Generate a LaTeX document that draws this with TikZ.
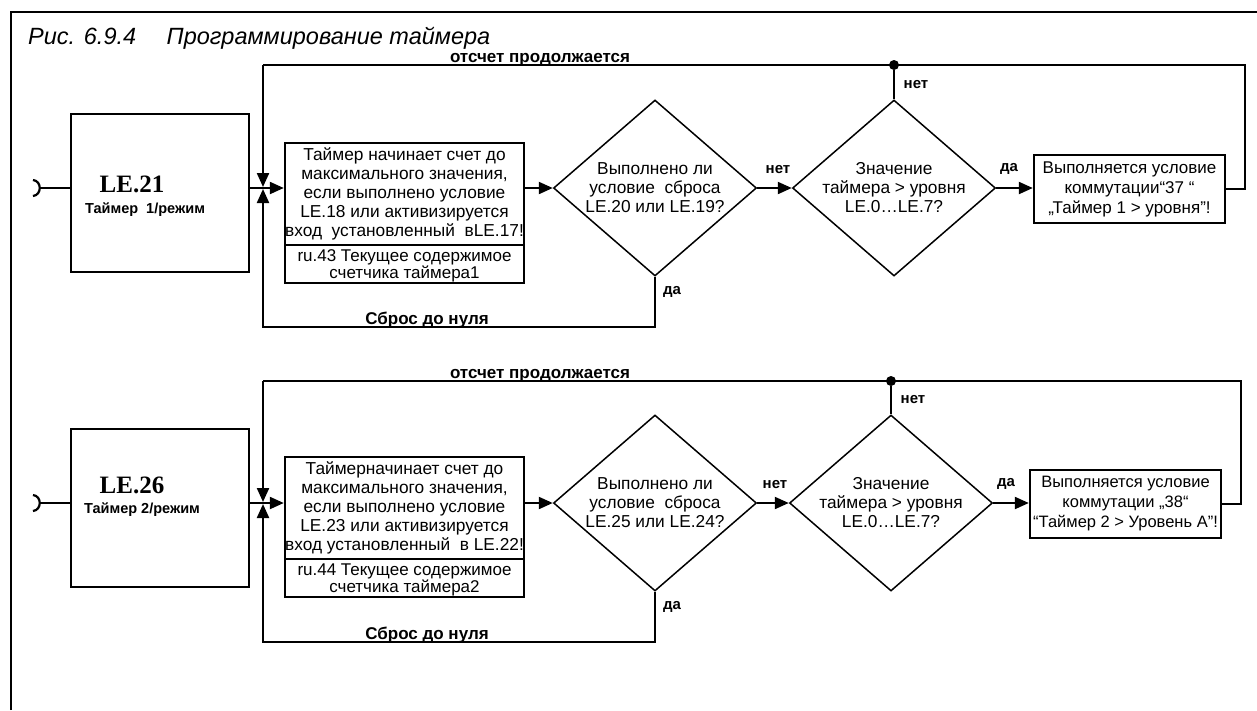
\documentclass[tikz,border=0pt]{standalone}
\usepackage{fontspec}
\setmainfont{Liberation Sans}
\newfontfamily\serifb{Liberation Serif}
\usetikzlibrary{shapes.geometric,arrows.meta,calc}
\begin{document}
\begin{tikzpicture}[x=1pt,y=-1pt,
  frame/.style={line width=2pt},
  conn/.style={line width=2.2pt},
  arr/.style={conn,-{Triangle[length=14pt,width=12pt]}},
  bigbox/.style={draw,line width=2.8pt,inner sep=0pt,minimum width=178pt,minimum height=158pt},
  txtbox/.style={draw,line width=2.4pt,inner sep=0pt,minimum width=239pt},
  txt/.style={inner sep=0pt,align=center,font=\fontsize{17.3}{19}\selectfont},
  resbox/.style={draw,line width=2.4pt,inner sep=0pt,minimum width=191pt,minimum height=68pt},
  dia/.style={diamond,draw,line width=1.5pt,inner sep=0pt,minimum width=203pt,minimum height=176pt},
  lbl/.style={font=\bfseries\fontsize{15}{17}\selectfont,inner sep=0pt},
  head/.style={font=\bfseries\fontsize{17}{19}\selectfont,inner sep=0pt,anchor=base},
  code/.style={font=\serifb\bfseries\fontsize{25}{28}\selectfont,inner sep=0pt},
  sub/.style={font=\bfseries\fontsize{14.5}{16}\selectfont,inner sep=0pt},
  dot/.style={circle,fill,inner sep=0pt,minimum size=10pt}
]
\useasboundingbox (0,0) rectangle (1257,710);
% frame
\draw[frame] (11,710) -- (11,12) -- (1257,12);
\node[anchor=base west,inner sep=0pt,font=\itshape\fontsize{23.5}{26}\selectfont] (title) at (28,44) {Рис. 6.9.4\hspace{1.3em}Программирование таймера};

% ===== row 1 =====
\coordinate (hk1) at (40,188);
\coordinate (j1) at (263,188);
\coordinate (j1a) at (263,187);
\coordinate (j1b) at (263,189);
\coordinate (lt1) at (263,65);
\coordinate (rt1) at (1245,65);
\coordinate (bc1) at (263,327);
\node[bigbox] (lb1) at (160,193) {};
\node[code] (le21) at (132,184) {LE.21};
\node[sub] (tm1) at (145,210) {Таймер\ \ 1/режим};
\node[txtbox,minimum height=102pt] (tb1) at (404.5,194) {};
\node[txt] (tb1t) at (404.5,194) {Таймер начинает счет до\\максимального значения,\\если выполнено условие\\LE.18 или активизируется\\вход\ \ установленный\ \ вLE.17!};
\node[txtbox,minimum height=38pt] (tb1b) at (404.5,264) {};
\node[txt,font=\fontsize{17}{17}\selectfont] (tb1bt) at (404.5,266) {ru.43 Текущее содержимое\\счетчика таймера1};
\node[dia] (d1) at (655,188) {};
\node[txt] (d1t) at (655,188) {Выполнено ли\\условие\ \ сброса\\LE.20 или LE.19?};
\node[dia] (d2) at (894,188) {};
\node[txt] (d2t) at (894,188) {Значение\\таймера > уровня\\LE.0…LE.7?};
\node[resbox] (rb1) at (1129.5,189) {};
\node[txt,font=\fontsize{17}{20}\selectfont] (rb1t) at (1129.5,189) {Выполняется условие\\коммутации“37 “\\„Таймер 1 > уровня”!};
\node[dot] (dot1) at (894,65) {};
\node[head] (oc1) at (540,62) {отсчет продолжается};
\node[head] (sb1) at (427,324) {Сброс до нуля};
\node[lbl] (n1a) at (916,85) {нет};
\node[lbl] (n1b) at (778,170) {нет};
\node[lbl] (y1a) at (1009,169) {да};
\node[lbl] (y1b) at (672,292) {да};

\draw[conn] (33,180) .. controls (42,181) and (42,195) .. (33,196);
\draw[conn] (hk1) -- (lb1.west |- hk1);
\draw[conn] (lb1.east |- j1) -- (j1);
\draw[arr] (j1) -- (tb1.west |- j1);
\draw[arr] (tb1.east |- d1.west) -- (d1.west);
\draw[arr] (d1.east) -- (d2.west);
\draw[arr] (d2.east) -- (rb1.west |- d2.east);
\draw[conn] (rb1.east) -| (rt1) -- (lt1);
\draw[arr] (lt1) -- (j1a);
\draw[conn] (dot1) -- (d2.north);
\draw[arr] (d1.south) |- (bc1) -- (j1b);

% ===== row 2 =====
\coordinate (hk2) at (40,503);
\coordinate (j2) at (263,503);
\coordinate (j2a) at (263,502);
\coordinate (j2b) at (263,504);
\coordinate (lt2) at (263,381);
\coordinate (rt2) at (1241,381);
\coordinate (bc2) at (263,642);
\node[bigbox] (lb2) at (160,508) {};
\node[code] (le26) at (132,485) {LE.26};
\node[sub] (tm2) at (142,510) {Таймер 2/режим};
\node[txtbox,minimum height=102pt] (tb2) at (404.5,508) {};
\node[txt] (tb2t) at (404.5,508) {Таймерначинает счет до\\максимального значения,\\если выполнено условие\\LE.23 или активизируется\\вход установленный\ \ в LE.22!};
\node[txtbox,minimum height=38pt] (tb2b) at (404.5,578) {};
\node[txt,font=\fontsize{17}{17}\selectfont] (tb2bt) at (404.5,580) {ru.44 Текущее содержимое\\счетчика таймера2};
\node[dia] (d3) at (655,503) {};
\node[txt] (d3t) at (655,503) {Выполнено ли\\условие\ \ сброса\\LE.25 или LE.24?};
\node[dia] (d4) at (891,503) {};
\node[txt] (d4t) at (891,503) {Значение\\таймера > уровня\\LE.0…LE.7?};
\node[resbox] (rb2) at (1125.5,504) {};
\node[txt,font=\fontsize{16.5}{20}\selectfont] (rb2t) at (1125.5,504) {Выполняется условие\\коммутации „38“\\“Таймер 2 > Уровень А”!};
\node[dot] (dot2) at (891,381) {};
\node[head] (oc2) at (540,378) {отсчет продолжается};
\node[head] (sb2) at (427,639) {Сброс до нуля};
\node[lbl] (n2a) at (913,400) {нет};
\node[lbl] (n2b) at (775,485) {нет};
\node[lbl] (y2a) at (1006,484) {да};
\node[lbl] (y2b) at (672,607) {да};

\draw[conn] (33,495) .. controls (42,496) and (42,510) .. (33,511);
\draw[conn] (hk2) -- (lb2.west |- hk2);
\draw[conn] (lb2.east |- j2) -- (j2);
\draw[arr] (j2) -- (tb2.west |- j2);
\draw[arr] (tb2.east |- d3.west) -- (d3.west);
\draw[arr] (d3.east) -- (d4.west);
\draw[arr] (d4.east) -- (rb2.west |- d4.east);
\draw[conn] (rb2.east) -| (rt2) -- (lt2);
\draw[arr] (lt2) -- (j2a);
\draw[conn] (dot2) -- (d4.north);
\draw[arr] (d3.south) |- (bc2) -- (j2b);
\end{tikzpicture}
\end{document}
